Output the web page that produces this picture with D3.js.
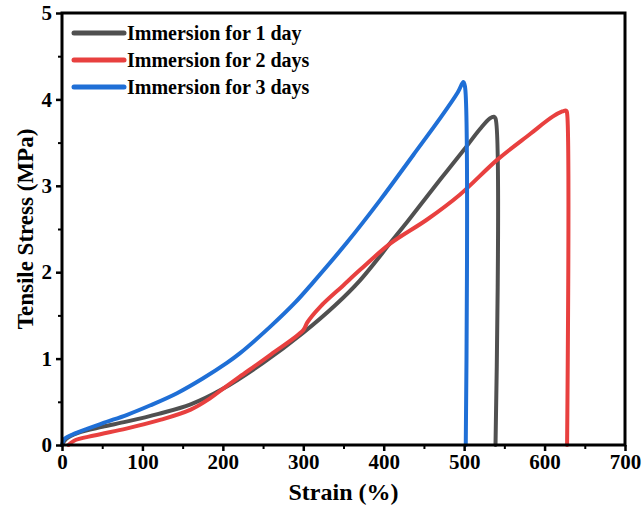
<!DOCTYPE html>
<html>
<head>
<meta charset="utf-8">
<script src="https://cdn.jsdelivr.net/npm/d3@7"></script>
<style>
  body { margin: 0; background: #fff; }
  text { font-family: "Liberation Serif", "Times New Roman", serif; font-weight: bold; }
</style>
</head>
<body>
<svg id="chart" width="643" height="510"></svg>
<script>
// values
const strain1 = [0, 5, 20, 50, 80, 120, 160, 200, 250, 300, 340, 370, 410, 440, 470, 500, 520, 532, 537, 539, 539];
const stress1 = [0, 0.07, 0.14, 0.21, 0.27, 0.36, 0.47, 0.65, 0.95, 1.3, 1.62, 1.9, 2.36, 2.71, 3.07, 3.42, 3.66, 3.78, 3.8, 3.78, 0];

const strain2 = [8, 15, 40, 80, 122, 160, 184, 200, 221, 260, 300, 305, 321, 350, 371, 408, 454, 495, 541, 582, 610, 622, 627, 628, 628];
const stress2 = [0, 0.05, 0.11, 0.19, 0.29, 0.41, 0.54, 0.65, 0.79, 1.05, 1.33, 1.42, 1.6, 1.85, 2.03, 2.33, 2.61, 2.9, 3.3, 3.6, 3.8, 3.86, 3.87, 3.84, 0];

const strain3 = [0, 3, 18, 50, 81, 110, 143, 175, 205, 221, 259, 290, 312, 354, 396, 437, 470, 492, 499, 501, 502];
const stress3 = [0, 0.07, 0.14, 0.25, 0.35, 0.46, 0.6, 0.77, 0.95, 1.06, 1.37, 1.65, 1.88, 2.34, 2.84, 3.36, 3.78, 4.08, 4.2, 4.15, 0];

const seriesNames = ['Immersion for 1 day', 'Immersion for 2 days', 'Immersion for 3 days'];
const seriesColors = ['#505050', '#e8403f', '#1f6fd6'];
const xTicks = [0, 100, 200, 300, 400, 500, 600, 700];
const yTicks = [0, 1, 2, 3, 4, 5];

const series = [
  d3.zip(strain1, stress1),
  d3.zip(strain2, stress2),
  d3.zip(strain3, stress3)
];

const svg = d3.select('#chart');
const plotLeft = 62, plotRight = 625, plotTop = 13, plotBottom = 445;

const x = d3.scaleLinear().domain([0, 700]).range([plotLeft, plotRight]);
const y = d3.scaleLinear().domain([0, 5]).range([plotBottom, plotTop]);

// curves
const line = d3.line()
  .x(d => x(d[0]))
  .y(d => y(d[1]))
  .curve(d3.curveCatmullRom.alpha(0.5));

svg.selectAll('path.curve')
  .data(series)
  .enter()
  .append('path')
  .attr('class', 'curve')
  .attr('d', line)
  .attr('fill', 'none')
  .attr('stroke', (d, i) => seriesColors[i])
  .attr('stroke-width', 4)
  .attr('stroke-linejoin', 'round')
  .attr('stroke-linecap', 'round');

// frame
svg.append('rect')
  .attr('x', plotLeft).attr('y', plotTop)
  .attr('width', plotRight - plotLeft).attr('height', plotBottom - plotTop)
  .attr('fill', 'none')
  .attr('stroke', '#000')
  .attr('stroke-width', 3);

// x axis
const xAxis = d3.axisBottom(x).tickValues(xTicks).tickSize(6).tickSizeOuter(0).tickPadding(3);
const gx = svg.append('g').attr('transform', `translate(0,${plotBottom})`).call(xAxis);
gx.select('.domain').remove();
gx.selectAll('line').attr('stroke-width', 2.5);
gx.selectAll('text').attr('font-size', 21).attr('fill', '#000')
  .style('font-family', '"Liberation Serif", serif').style('font-weight', 'bold');

const gxMinor = svg.append('g').attr('transform', `translate(0,${plotBottom})`)
  .call(d3.axisBottom(x).tickValues(d3.range(50, 700, 100)).tickSize(4).tickFormat(''));
gxMinor.select('.domain').remove();
gxMinor.selectAll('line').attr('stroke-width', 2);

// y axis
const yAxis = d3.axisLeft(y).tickValues(yTicks).tickFormat(d3.format('d'))
  .tickSize(6).tickSizeOuter(0).tickPadding(4);
const gy = svg.append('g').attr('transform', `translate(${plotLeft},0)`).call(yAxis);
gy.select('.domain').remove();
gy.selectAll('line').attr('stroke-width', 2.5);
gy.selectAll('text').attr('font-size', 21).attr('fill', '#000')
  .style('font-family', '"Liberation Serif", serif').style('font-weight', 'bold');

const gyMinor = svg.append('g').attr('transform', `translate(${plotLeft},0)`)
  .call(d3.axisLeft(y).tickValues(d3.range(0.5, 5, 1)).tickSize(4).tickFormat(''));
gyMinor.select('.domain').remove();
gyMinor.selectAll('line').attr('stroke-width', 2);

// axis titles
svg.append('text')
  .attr('x', (plotLeft + plotRight) / 2)
  .attr('y', 500)
  .attr('text-anchor', 'middle')
  .attr('font-size', 24)
  .text('Strain (%)');

svg.append('text')
  .attr('transform', `translate(33,${(plotTop + plotBottom) / 2}) rotate(-90)`)
  .attr('text-anchor', 'middle')
  .attr('font-size', 23)
  .text('Tensile Stress (MPa)');

// legend
const legend = svg.append('g').attr('transform', 'translate(72,33)');
const rows = legend.selectAll('g.row')
  .data(seriesNames)
  .enter()
  .append('g')
  .attr('class', 'row')
  .attr('transform', (d, i) => `translate(0,${i * 27})`);

rows.append('line')
  .attr('x1', 2).attr('x2', 52)
  .attr('y1', 0).attr('y2', 0)
  .attr('stroke', (d, i) => seriesColors[i])
  .attr('stroke-width', 5)
  .attr('stroke-linecap', 'round');

rows.append('text')
  .attr('x', 55)
  .attr('y', 7)
  .attr('font-size', 20)
  .text(d => d);
</script>
</body>
</html>
